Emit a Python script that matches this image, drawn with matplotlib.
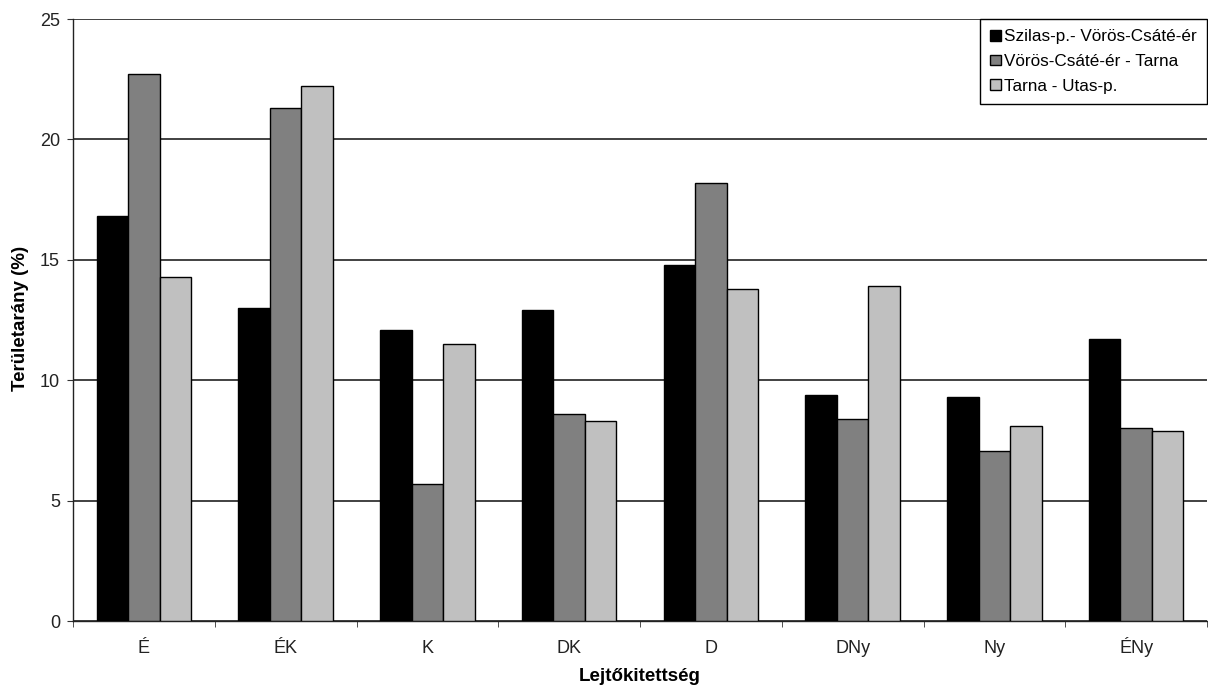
import numpy as np
import matplotlib
matplotlib.use("Agg")
import matplotlib.pyplot as plt
from matplotlib.ticker import MultipleLocator

plt.rcParams['font.family'] = ['Liberation Sans', 'DejaVu Sans']

categories = ['É', 'ÉK', 'K', 'DK', 'D', 'DNy', 'Ny', 'ÉNy']
series_names = ['Szilas-p.- Vörös-Csáté-ér', 'Vörös-Csáté-ér - Tarna', 'Tarna - Utas-p.']
szilas = [16.8, 13.0, 12.1, 12.9, 14.8, 9.4, 9.3, 11.7]
voros = [22.7, 21.3, 5.7, 8.6, 18.2, 8.4, 7.05, 8.0]
tarna = [14.3, 22.2, 11.5, 8.3, 13.8, 13.9, 8.1, 7.9]
colors = ['#000000', '#808080', '#c0c0c0']

fig = plt.figure(figsize=(12.08, 6.89), dpi=100)
ax = fig.add_axes([73 / 1208, 1 - 621 / 689, 1134 / 1208, 602 / 689])

x = np.arange(len(categories)) + 0.5
w = 1 / 4.5  # excel-style 150% gap width
for k, (vals, name, c) in enumerate(zip([szilas, voros, tarna], series_names, colors)):
    ax.bar(x + (k - 1) * w, vals, width=w, color=c, edgecolor='black',
           linewidth=1.0, label=name, zorder=3)

ax.set_xlim(0, len(categories))
ax.set_ylim(0, 25)
ax.yaxis.set_major_locator(MultipleLocator(5))
ax.grid(axis='y', color='#333333', linewidth=1.3, zorder=0)
ax.set_axisbelow(True)

ax.set_xticks(x)
ax.set_xticklabels(categories, va='baseline')
ax.set_xticks(np.arange(len(categories) + 1), minor=True)
ax.tick_params(axis='x', which='major', length=0, pad=23, labelsize=13, labelcolor='#222222')
ax.tick_params(axis='x', which='minor', length=4.3, direction='out', color='#333333')
ax.tick_params(axis='y', length=4.3, direction='out', labelsize=13, labelcolor='#222222',
               pad=5, color='#333333')

for s in ['top', 'right']:
    ax.spines[s].set_visible(False)
for s in ['left', 'bottom']:
    ax.spines[s].set_color('#222222')
    ax.spines[s].set_linewidth(1.0)

ax.set_xlabel('Lejtőkitettség', fontsize=13.5, fontweight='bold', va='baseline')
ax.xaxis.set_label_coords(0.5, -60 / 602)
ax.set_ylabel('Területarány (%)', fontsize=13.5, fontweight='bold')
ax.yaxis.label.set_va('center')
ax.yaxis.set_label_coords(-52 / 1134, 0.5 + 2 / 602)

leg = ax.legend(loc='upper right', bbox_to_anchor=(1.0, 1.0), fontsize=12.3,
                frameon=True, fancybox=False, edgecolor='black', framealpha=1,
                handlelength=0.6, handleheight=0.6, handletextpad=0.2,
                borderpad=0.6, labelspacing=0.57, borderaxespad=0.0)
leg.get_frame().set_linewidth(1.0)

fig.savefig('out.png', dpi=100, facecolor='white')
